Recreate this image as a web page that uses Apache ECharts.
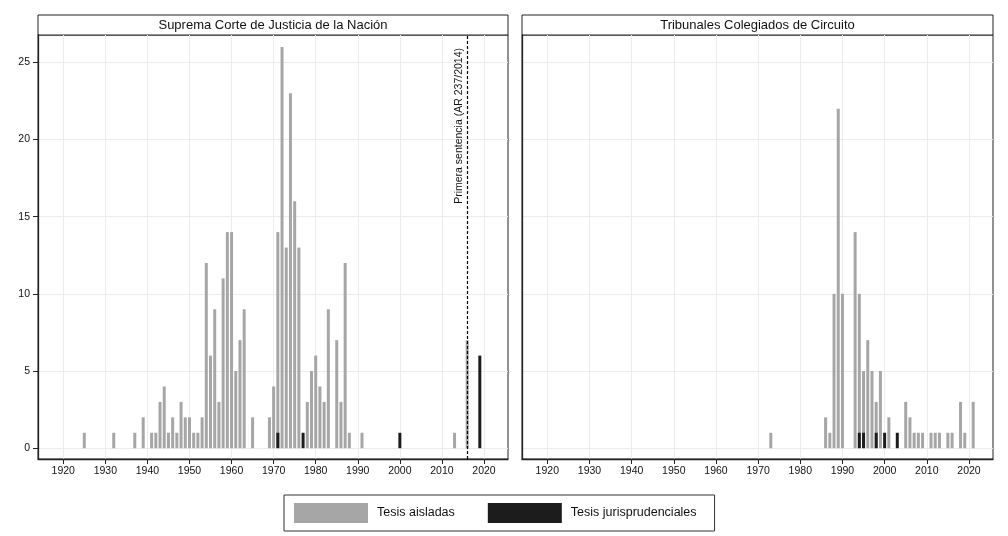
<!DOCTYPE html>
<html>
<head>
<meta charset="utf-8">
<script src="https://cdn.jsdelivr.net/npm/echarts@6/dist/echarts.min.js"></script>
<style>
html,body{margin:0;padding:0;background:#fff;}
#c{width:1008px;height:536px;}
</style>
</head>
<body>
<div id="c"></div>
<script>
// ---- Data ----
const panelTitles = ['Suprema Corte de Justicia de la Nación', 'Tribunales Colegiados de Circuito'];
const seriesNames = ['Tesis aisladas', 'Tesis jurisprudenciales'];
const xTicks = [1920, 1930, 1940, 1950, 1960, 1970, 1980, 1990, 2000, 2010, 2020];
const yTicks = [0, 5, 10, 15, 20, 25];

// SCJN - tesis aisladas
const scjnAisladasYears  = [1925,1932,1937,1939,1941,1942,1943,1944,1945,1946,1947,1948,1949,1950,1951,1952,1953,1954,1955,1956,1957,1958,1959,1960,1961,1962,1963,1965,1969,1970,1971,1972,1973,1974,1975,1976,1978,1979,1980,1981,1982,1983,1985,1986,1987,1988,1991,2013,2016];
const scjnAisladasCounts = [1,   1,   1,   2,   1,   1,   3,   4,   1,   2,   1,   3,   2,   2,   1,   1,   2,   12,  6,   9,   3,   11,  14,  14,  5,   7,   9,   2,   2,   4,   13,  26,  13,  23,  16,  13,  3,   5,   6,   4,   3,   9,   7,   3,   12,  1,   1,   1,   7];
// SCJN - tesis jurisprudenciales
const scjnJurisYears  = [1971, 1977, 2000, 2019];
const scjnJurisCounts = [1,    1,    1,    6];

// TCC - tesis aisladas
const tccAisladasYears  = [1973,1986,1987,1988,1989,1990,1993,1994,1995,1996,1997,1998,1999,2001,2005,2006,2007,2008,2009,2011,2012,2013,2015,2016,2018,2019,2021];
const tccAisladasCounts = [1,   2,   1,   10,  22,  10,  14,  9,   4,   7,   5,   2,   5,   2,   3,   2,   1,   1,   1,   1,   1,   1,   1,   1,   3,   1,   3];
// TCC - tesis jurisprudenciales
const tccJurisYears  = [1994, 1995, 1998, 2000, 2003];
const tccJurisCounts = [1,    1,    1,    1,    1];

const firstRulingYear = 2016;
const firstRulingLabel = 'Primera sentencia (AR 237/2014)';

// ---- Build series: grey bar shows aisladas stacked on top of jurisprudenciales ----
const yearMin = 1914, yearMax = 2025.7;
function lookup(years, counts, y) {
  const i = years.indexOf(y);
  return i >= 0 ? counts[i] : 0;
}
function buildJuris(years, counts) {
  return years.map((y, i) => [y, counts[i]]);
}
function buildTop(aYears, aCounts, jYears, jCounts) {
  // top of stack = aisladas + jurisprudenciales for each year with aisladas
  return aYears.map((y, i) => [y, aCounts[i] + lookup(jYears, jCounts, y)]);
}

const GREY = '#a6a6a6', BLACK = '#1c1c1c', GRID = '#ececec', FRAME = '#222';
const FONT = '"Liberation Sans", Arial, Helvetica, sans-serif';

const grids = [
  {left: 38, top: 35, width: 470, height: 424},
  {left: 522, top: 35, width: 471, height: 424}
];

function xAxis(i) {
  return {
    type: 'value', gridIndex: i, min: yearMin, max: yearMax,
    axisLine: {show: true, onZero: false, lineStyle: {color: FRAME, width: 1.3}},
    axisTick: {show: true, customValues: xTicks, length: 5, lineStyle: {color: FRAME}},
    axisLabel: {customValues: xTicks, formatter: v => String(v), color: '#111', fontSize: 10.5, fontFamily: FONT, margin: 7},
    splitLine: {show: true, lineStyle: {color: GRID, width: 1}}
  };
}
function yAxis(i) {
  return {
    type: 'value', gridIndex: i, min: -0.7, max: 26.77,
    axisLine: {show: true, onZero: false, lineStyle: {color: FRAME, width: 1.3}},
    axisTick: {show: i === 0, customValues: yTicks, length: 5, lineStyle: {color: FRAME}},
    axisLabel: {show: i === 0, customValues: yTicks, formatter: v => String(v), color: '#111', fontSize: 10.5, fontFamily: FONT, margin: 8},
    splitLine: {show: true, lineStyle: {color: GRID, width: 1}}
  };
}

const option = {
  animation: false,
  backgroundColor: '#fff',
  textStyle: {fontFamily: FONT},
  grid: grids.map(g => Object.assign({show: true, borderColor: FRAME, borderWidth: 1, backgroundColor: 'transparent'}, g)),
  xAxis: [xAxis(0), xAxis(1)],
  yAxis: [yAxis(0), yAxis(1)],
  legend: {
    data: seriesNames,
    left: 284, top: 495,
    orient: 'horizontal',
    icon: 'rect',
    itemWidth: 74, itemHeight: 20, itemGap: 33,
    padding: [8, 18, 8, 10],
    borderColor: '#333', borderWidth: 1,
    selectedMode: false,
    textStyle: {fontSize: 12.5, color: '#111', fontFamily: FONT, padding: [0, 0, 0, 4]}
  },
  graphic: grids.map((g, i) => ({
    type: 'group',
    children: [
      {type: 'rect', shape: {x: g.left, y: 15, width: g.width, height: 20},
       style: {fill: '#fff', stroke: FRAME, lineWidth: 1}},
      {type: 'text', x: g.left + g.width / 2, y: 25,
       style: {text: panelTitles[i], fontSize: 13, fontFamily: FONT, fill: '#111',
               textAlign: 'center', textVerticalAlign: 'middle'}}
    ]
  })),
  series: [
    {name: seriesNames[0], type: 'bar', xAxisIndex: 0, yAxisIndex: 0,
     barWidth: 3, barGap: '-100%', itemStyle: {color: GREY},
     data: buildTop(scjnAisladasYears, scjnAisladasCounts, scjnJurisYears, scjnJurisCounts),
     markLine: {
       silent: true, symbol: 'none',
       lineStyle: {color: '#000', type: [3, 2], width: 1.2},
       label: {show: true, formatter: firstRulingLabel, position: 'insideEndTop',
               fontSize: 10.5, color: '#111', fontFamily: FONT, distance: 3, padding: [0, 10, 0, 0]},
       data: [{xAxis: firstRulingYear}]
     }},
    {name: seriesNames[1], type: 'bar', xAxisIndex: 0, yAxisIndex: 0,
     barWidth: 3, barGap: '-100%', itemStyle: {color: BLACK},
     data: buildJuris(scjnJurisYears, scjnJurisCounts)},
    {name: seriesNames[0], type: 'bar', xAxisIndex: 1, yAxisIndex: 1,
     barWidth: 3, barGap: '-100%', itemStyle: {color: GREY},
     data: buildTop(tccAisladasYears, tccAisladasCounts, tccJurisYears, tccJurisCounts)},
    {name: seriesNames[1], type: 'bar', xAxisIndex: 1, yAxisIndex: 1,
     barWidth: 3, barGap: '-100%', itemStyle: {color: BLACK},
     data: buildJuris(tccJurisYears, tccJurisCounts)}
  ]
};

const chart = echarts.init(document.getElementById('c'), null, {renderer: 'canvas'});
chart.setOption(option);
</script>
</body>
</html>
